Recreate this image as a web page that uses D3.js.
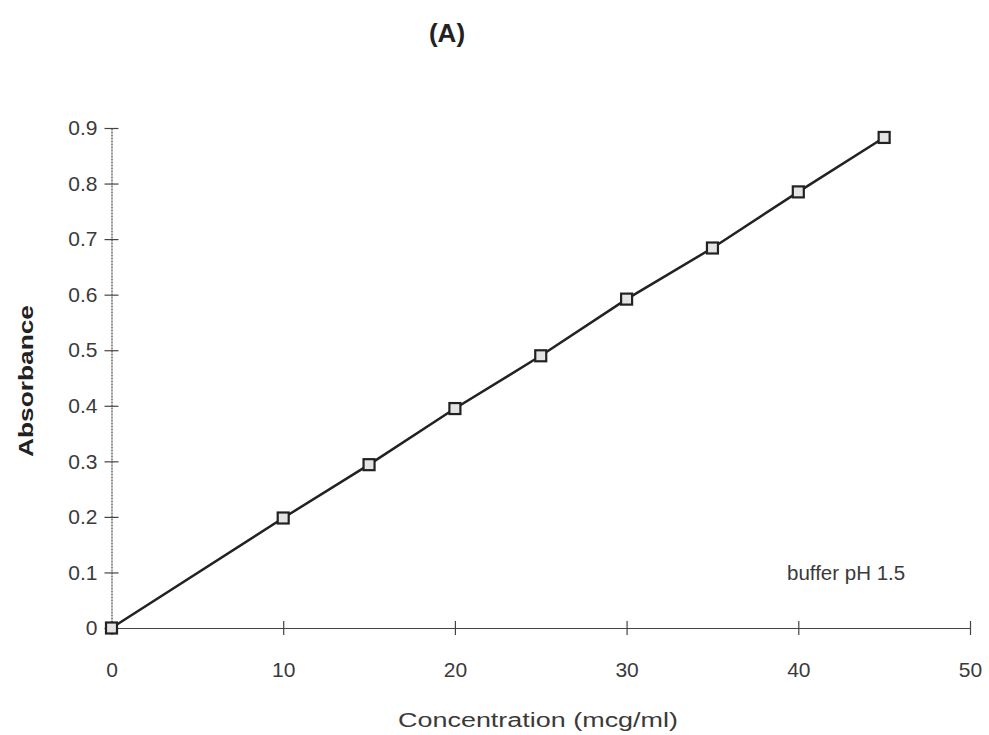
<!DOCTYPE html>
<html>
<head>
<meta charset="utf-8">
<script src="https://cdn.jsdelivr.net/npm/d3@7"></script>
<style>
  body { margin: 0; background: #fff; }
  text { font-family: "Liberation Sans", Arial, sans-serif; }
</style>
</head>
<body>
<div id="chart"></div>
<script>
// calibration data, buffer pH 1.5
const concentration = [0, 10, 15, 20, 25, 30, 35, 40, 45];
const absorbance = [0, 0.198, 0.294, 0.395, 0.490, 0.592, 0.684, 0.785, 0.883];
const xTicks = [0, 10, 20, 30, 40, 50];
const yTicks = [0, 0.1, 0.2, 0.3, 0.4, 0.5, 0.6, 0.7, 0.8, 0.9];

const width = 989, height = 735;
const margin = {left: 111.5, right: 19, top: 128, bottom: 107};

const svg = d3.select("#chart")
    .append("svg")
    .attr("width", width)
    .attr("height", height);

const x = d3.scaleLinear().domain([0, 50]).range([margin.left, width - margin.right]);
const y = d3.scaleLinear().domain([0, 0.9]).range([height - margin.bottom, margin.top]);

const ink = "#222";
const grey = "#3a3a3a";

// x axis
const xAxis = svg.append("g")
    .attr("transform", `translate(0,${y(0)})`)
    .call(d3.axisBottom(x).tickValues(xTicks).tickSize(0).tickPadding(34).tickFormat(d3.format("d")));
xAxis.select(".domain").attr("stroke", "#444").attr("stroke-width", 1.2);
xAxis.selectAll(".tick line").remove();
xAxis.selectAll(".tick").append("line")
    .attr("y1", -7).attr("y2", 7)
    .attr("stroke", "#444").attr("stroke-width", 1.2);
xAxis.selectAll(".tick text")
    .attr("font-family", "Liberation Sans, Arial, sans-serif")
    .attr("font-size", 21).attr("fill", grey);

// y axis
const yAxis = svg.append("g")
    .attr("transform", `translate(${x(0)},0)`)
    .call(d3.axisLeft(y).tickValues(yTicks).tickSize(0).tickPadding(14)
        .tickFormat(d => d === 0 ? "0" : d3.format(".1f")(d)));
yAxis.select(".domain").attr("stroke", "#444").attr("stroke-width", 1.2)
    .attr("stroke-dasharray", "2,1");
yAxis.selectAll(".tick").append("line")
    .attr("x1", -7).attr("x2", 7)
    .attr("stroke", "#444").attr("stroke-width", 1.2);
yAxis.selectAll(".tick text")
    .attr("font-family", "Liberation Sans, Arial, sans-serif")
    .attr("font-size", 21).attr("fill", grey);

// line
const line = d3.line()
    .x((d, i) => x(concentration[i]))
    .y(d => y(d));

svg.append("path")
    .datum(absorbance)
    .attr("d", line)
    .attr("fill", "none")
    .attr("stroke", ink)
    .attr("stroke-width", 2.5);

// markers
svg.selectAll("rect.pt")
    .data(absorbance)
    .enter()
    .append("rect")
    .attr("class", "pt")
    .attr("x", (d, i) => x(concentration[i]) - 5.5)
    .attr("y", d => y(d) - 5.5)
    .attr("width", 11)
    .attr("height", 11)
    .attr("fill", "#e4e4e4")
    .attr("stroke", ink)
    .attr("stroke-width", 2.2);

// labels
svg.append("text")
    .attr("x", 447).attr("y", 42)
    .attr("text-anchor", "middle")
    .attr("font-size", 26).attr("font-weight", "bold")
    .attr("fill", ink)
    .text("(A)");

svg.append("text")
    .attr("transform", `translate(33,381) rotate(-90)`)
    .attr("text-anchor", "middle")
    .attr("font-family", "DejaVu Sans, sans-serif")
    .attr("font-size", 21).attr("font-weight", "bold")
    .attr("textLength", 152).attr("lengthAdjust", "spacingAndGlyphs")
    .attr("fill", ink)
    .text("Absorbance");

svg.append("text")
    .attr("x", 538).attr("y", 727)
    .attr("text-anchor", "middle")
    .attr("font-family", "DejaVu Sans, sans-serif")
    .attr("font-size", 20)
    .attr("textLength", 280).attr("lengthAdjust", "spacingAndGlyphs")
    .attr("fill", grey)
    .text("Concentration (mcg/ml)");

svg.append("text")
    .attr("x", 787).attr("y", 580)
    .attr("font-size", 20.5)
    .attr("fill", grey)
    .text("buffer pH 1.5");
</script>
</body>
</html>
